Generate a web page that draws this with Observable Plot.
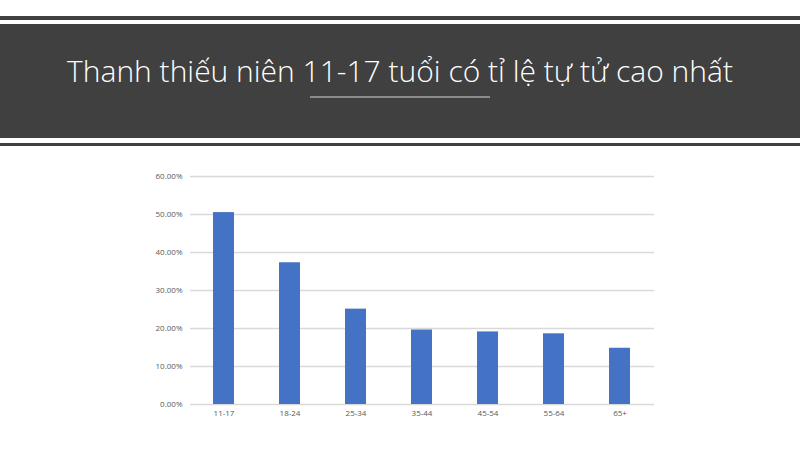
<!DOCTYPE html>
<html>
<head>
<meta charset="utf-8">
<script src="https://cdn.jsdelivr.net/npm/d3@7"></script>
<script src="https://cdn.jsdelivr.net/npm/@observablehq/plot@0.6"></script>
<style>
  html, body { margin: 0; padding: 0; background: #fff; }
  #page { position: relative; width: 800px; height: 450px; overflow: hidden; background: #fff; }
  .line { position: absolute; left: 0; width: 800px; background: #404040; }
  #band { position: absolute; left: 0; top: 24px; width: 800px; height: 114px; background: #404040; }
  #title { position: absolute; left: 0; top: 51px; width: 800px; text-align: center; color: #fff;
           font-family: "Open Sans", sans-serif; font-weight: 300; font-size: 30px; line-height: 40px; letter-spacing: 0px; }
  #underline { position: absolute; left: 310px; top: 96px; width: 180px; height: 1.5px; background: #8c8c8c; }
  #chart { position: absolute; left: 0; top: 150px; }
</style>
</head>
<body>
<div id="page">
  <div class="line" style="top:16px;height:4px;"></div>
  <div id="band"></div>
  <div id="title">Thanh thiếu niên 11-17 tuổi có tỉ lệ tự tử cao nhất</div>
  <div id="underline"></div>
  <div class="line" style="top:143px;height:3px;"></div>
  <div id="chart"></div>
</div>
<script>
const categories = ["11-17", "18-24", "25-34", "35-44", "45-54", "55-64", "65+"];
const values = [50.5, 37.3, 25.1, 19.6, 19.1, 18.6, 14.8];
const yTicks = [0, 10, 20, 30, 40, 50, 60];

const data = categories.map((c, i) => ({category: c, value: values[i]}));

const chart = Plot.plot({
  width: 800,
  height: 290,
  marginLeft: 190,
  marginRight: 146,
  marginTop: 26,
  marginBottom: 36,
  style: {fontFamily: "'Open Sans', sans-serif", fontSize: "8px", color: "#595959", background: "transparent"},
  x: {domain: categories, paddingInner: 0.68, paddingOuter: 0.34, label: null, tickSize: 0, tickPadding: 6},
  y: {domain: [0, 60], ticks: yTicks, label: null, tickSize: 0, tickPadding: 8,
      tickFormat: d => d.toFixed(2) + "%"},
  marks: [
    Plot.ruleY(yTicks, {stroke: "#d9d9d9", strokeWidth: 1.3}),
    Plot.barY(data, {x: "category", y: "value", fill: "#4472C4"}),
    Plot.axisX({tickSize: 0, tickPadding: 6, fill: "#595959"}),
    Plot.axisY({ticks: yTicks, tickSize: 0, tickPadding: 8, tickFormat: d => d.toFixed(2) + "%", fill: "#595959"})
  ]
});
document.getElementById("chart").appendChild(chart);
</script>
</body>
</html>
